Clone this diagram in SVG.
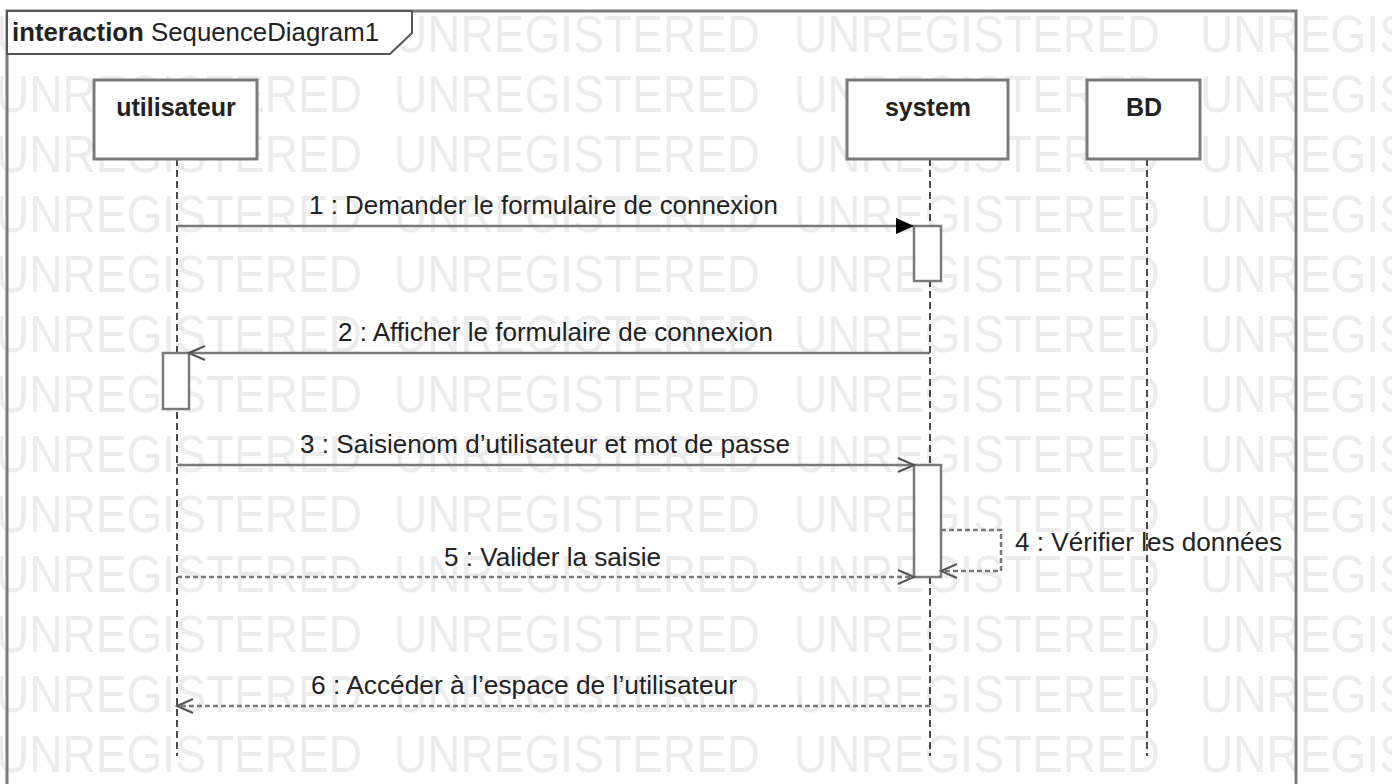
<svg xmlns="http://www.w3.org/2000/svg" xmlns:xlink="http://www.w3.org/1999/xlink" width="1392" height="784" viewBox="0 0 1392 784">
<style>
  .wm { font-family: "Liberation Sans", Arial, sans-serif; font-size: 52px; fill: #ececec; }
  .frame { fill: none; stroke: #7a7a7a; stroke-width: 3; }
  .tab { fill: #ffffff; stroke: #555555; stroke-width: 2; }
  .box { fill: #ffffff; stroke: #7a7a7a; stroke-width: 3; }
  .act { fill: #ffffff; stroke: #7a7a7a; stroke-width: 2.5; }
  .life { stroke: #111111; stroke-width: 1.5; stroke-dasharray: 7 4; fill: none; }
  .msg { stroke: #7a7a7a; stroke-width: 2.5; fill: none; }
  .ret { stroke: #7a7a7a; stroke-width: 2.5; fill: none; stroke-dasharray: 5 3; }
  .lbl { font-family: "Liberation Sans", Arial, sans-serif; font-size: 25px; fill: #222222; }
  .name { font-family: "Liberation Sans", Arial, sans-serif; font-size: 25px; font-weight: bold; fill: #222222; text-anchor: middle; }
  .title { font-family: "Liberation Sans", Arial, sans-serif; font-size: 25px; fill: #222222; }
</style>
<defs>
  <marker id="filled" markerUnits="userSpaceOnUse" markerWidth="20" markerHeight="16" refX="18" refY="8" orient="auto">
    <path d="M0,0 L18,8 L0,16 Z" fill="#000000"/>
  </marker>
  <marker id="open" markerUnits="userSpaceOnUse" markerWidth="20" markerHeight="18" refX="17" refY="9" orient="auto">
    <path d="M1,2 L17,9 L1,16" fill="none" stroke="#555555" stroke-width="2"/>
  </marker>
  <g id="wmrow">
    <text class="wm" x="-4" y="0" textLength="366" lengthAdjust="spacingAndGlyphs">UNREGISTERED</text>
    <text class="wm" x="394" y="0" textLength="366" lengthAdjust="spacingAndGlyphs">UNREGISTERED</text>
    <text class="wm" x="794" y="0" textLength="366" lengthAdjust="spacingAndGlyphs">UNREGISTERED</text>
    <text class="wm" x="1200" y="0" textLength="366" lengthAdjust="spacingAndGlyphs">UNREGISTERED</text>
  </g>
</defs>
<rect x="0" y="0" width="1392" height="784" fill="#ffffff"/>
<g id="watermark">
  <use xlink:href="#wmrow" y="52"/>
  <use xlink:href="#wmrow" y="112"/>
  <use xlink:href="#wmrow" y="172"/>
  <use xlink:href="#wmrow" y="232"/>
  <use xlink:href="#wmrow" y="292"/>
  <use xlink:href="#wmrow" y="352"/>
  <use xlink:href="#wmrow" y="412"/>
  <use xlink:href="#wmrow" y="472"/>
  <use xlink:href="#wmrow" y="532"/>
  <use xlink:href="#wmrow" y="592"/>
  <use xlink:href="#wmrow" y="652"/>
  <use xlink:href="#wmrow" y="712"/>
  <use xlink:href="#wmrow" y="772"/>
</g>
<g id="frame">
  <rect class="frame" x="7" y="11" width="1289" height="800"/>
  <path class="tab" d="M7,11 H412 V33 L390,54 H7 Z"/>
  <text class="title" x="12" y="41" textLength="367" lengthAdjust="spacingAndGlyphs"><tspan font-weight="bold">interaction</tspan> SequenceDiagram1</text>
</g>
<g id="lifelines">
  <line class="life" x1="177" y1="159" x2="177" y2="756"/>
  <line class="life" x1="930" y1="159" x2="930" y2="756"/>
  <line class="life" x1="1147" y1="159" x2="1147" y2="756"/>
</g>
<g id="node-utilisateur">
  <rect class="box" x="94" y="80" width="163" height="79"/>
  <text class="name" x="176" y="116">utilisateur</text>
</g>
<g id="node-system">
  <rect class="box" x="847" y="80" width="161" height="79"/>
  <text class="name" x="928" y="116">system</text>
</g>
<g id="node-BD">
  <rect class="box" x="1087" y="80" width="113" height="79"/>
  <text class="name" x="1144" y="116">BD</text>
</g>
<g id="activations">
  <rect class="act" x="914" y="226" width="27" height="55"/>
  <rect class="act" x="163" y="353" width="26" height="56"/>
  <rect class="act" x="914" y="465" width="27" height="112"/>
</g>
<g id="connectors">
  <line class="msg" x1="177" y1="226" x2="914" y2="226" marker-end="url(#filled)"/>
  <line class="msg" x1="930" y1="353" x2="189" y2="353" marker-end="url(#open)"/>
  <line class="msg" x1="177" y1="465" x2="914" y2="465" marker-end="url(#open)"/>
  <polyline class="ret" points="941,530 1001,530 1001,571 941,571" marker-end="url(#open)"/>
  <line class="ret" x1="177" y1="577" x2="914" y2="577" marker-end="url(#open)"/>
  <line class="ret" x1="930" y1="706" x2="177" y2="706" marker-end="url(#open)"/>
</g>
<g id="labels">
  <text class="lbl" x="309" y="214" textLength="469" lengthAdjust="spacingAndGlyphs">1 : Demander le formulaire de connexion</text>
  <text class="lbl" x="338" y="341" textLength="435" lengthAdjust="spacingAndGlyphs">2 : Afficher le formulaire de connexion</text>
  <text class="lbl" x="300" y="453" textLength="490" lengthAdjust="spacingAndGlyphs">3 : Saisienom d’utilisateur et mot de passe</text>
  <text class="lbl" x="1015" y="551" textLength="267" lengthAdjust="spacingAndGlyphs">4 : Vérifier les données</text>
  <text class="lbl" x="444" y="566" textLength="217" lengthAdjust="spacingAndGlyphs">5 : Valider la saisie</text>
  <text class="lbl" x="311" y="694" textLength="426" lengthAdjust="spacingAndGlyphs">6 : Accéder à l’espace de l’utilisateur</text>
</g>
</svg>
